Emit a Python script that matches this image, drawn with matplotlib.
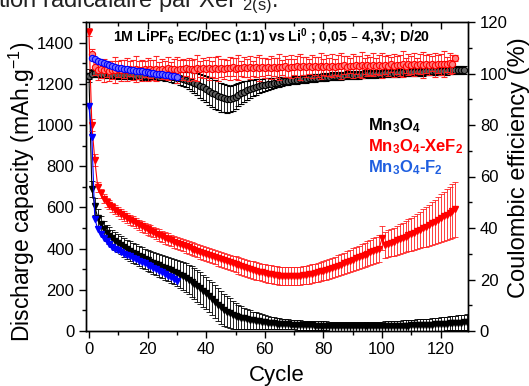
import matplotlib
matplotlib.use("Agg")
import matplotlib.pyplot as plt
from matplotlib.ticker import MultipleLocator
import numpy as np

plt.rcParams['font.family'] = ['Liberation Sans', 'DejaVu Sans']
plt.rcParams['mathtext.default'] = 'regular'

# ---------------- data ----------------
# Mn3O4 discharge capacity (mAh/g), cycles 0..129
blk_cap = [1240, 690, 605, 550, 520, 495, 476, 462, 450, 438,
           428, 418, 407, 397, 388, 380, 372, 364, 357, 350,
           343, 337, 331, 325, 319, 313, 307, 301, 295, 288,
           281, 274, 267, 259, 250, 240, 230, 219, 208, 196,
           184, 170, 156, 142, 128, 116, 104, 94, 86, 79,
           73, 68, 64, 61, 58, 55, 52, 50, 47, 45,
           43, 41, 39, 37, 36, 35, 34, 33, 32, 31,
           30, 29, 29, 28, 28, 27, 27, 26, 26, 25,
           25, 25, 24, 24, 24, 24, 23, 23, 23, 23,
           23, 23, 23, 23, 23, 23, 23, 23, 24, 24,
           24, 24, 24, 25, 25, 25, 25, 26, 26, 26,
           27, 27, 28, 28, 29, 29, 30, 31, 32, 33,
           34, 35, 36, 37, 38, 39, 40, 41, 42, 43]
blk_cap_err = [30, 40, 40, 40, 40, 40, 40, 42, 42, 44,
               44, 45, 46, 47, 48, 48, 49, 50, 50, 50,
               51, 52, 53, 54, 55, 56, 57, 58, 60, 62,
               64, 66, 68, 70, 72, 74, 75, 76, 77, 78,
               78, 79, 80, 80, 80, 80, 78, 76, 72, 68,
               64, 60, 56, 52, 48, 45, 42, 40, 38, 36,
               34, 32, 30, 29, 28, 27, 26, 25, 24, 23,
               22, 22, 22, 22, 22, 22, 22, 22, 22, 22,
               22, 22, 22, 22, 22, 22, 22, 22, 22, 22,
               22, 22, 22, 22, 22, 22, 22, 22, 22, 22,
               22, 23, 23, 24, 24, 25, 25, 26, 26, 27,
               27, 28, 28, 29, 29, 30, 30, 31, 31, 32,
               32, 33, 33, 34, 34, 35, 36, 37, 38, 38]
# Mn3O4 coulombic efficiency (%), cycles 0..128
blk_ce = [99.0, 100.0, 100.2, 100.0, 99.8, 99.9, 99.7, 99.8, 99.6, 99.7,
          99.5, 99.6, 99.4, 99.5, 99.3, 99.4, 99.2, 99.3, 99.1, 99.2,
          99.0, 99.1, 98.9, 99.0, 98.8, 98.9, 98.7, 98.8, 98.6, 98.5,
          98.4, 98.2, 98.0, 97.6, 97.2, 96.8, 96.3, 95.8, 95.2, 94.6,
          94.0, 93.3, 92.6, 91.9, 91.3, 90.8, 90.4, 90.2, 90.1, 90.4,
          91.0, 91.7, 92.4, 93.0, 93.5, 94.0, 94.4, 94.8, 95.1, 95.4,
          95.7, 95.9, 96.1, 96.3, 96.5, 96.7, 96.9, 97.0, 97.2, 97.3,
          97.5, 97.6, 97.7, 97.9, 98.0, 98.1, 98.2, 98.3, 98.4, 98.5,
          98.6, 98.7, 98.8, 98.9, 99.0, 99.0, 99.1, 99.2, 99.3, 99.3,
          99.4, 99.5, 99.5, 99.6, 99.7, 99.7, 99.8, 99.9, 99.9, 100.0,
          100.0, 100.1, 100.1, 100.2, 100.2, 100.3, 100.3, 100.4, 100.4, 100.5,
          100.5, 100.6, 100.6, 100.7, 100.7, 100.8, 100.8, 100.9, 100.9, 101.0,
          101.0, 101.1, 101.1, 101.2, 101.2, 101.3, 101.3, 101.4, 101.4]
blk_ce_err = [1.0, 1.5, 1.5, 1.5, 1.5, 1.5, 1.5, 1.5, 1.5, 1.5,
              1.5, 1.5, 1.5, 1.5, 1.5, 1.5, 1.5, 1.5, 1.5, 1.5,
              1.5, 1.5, 1.5, 1.5, 1.5, 1.5, 1.5, 1.5, 1.8, 2.0,
              2.2, 2.5, 2.8, 3.0, 3.3, 3.6, 4.0, 4.3, 4.6, 5.0,
              5.2, 5.4, 5.5, 5.6, 5.6, 5.6, 5.5, 5.4, 5.2, 5.0,
              4.8, 4.5, 4.2, 4.0, 3.7, 3.4, 3.2, 3.0, 2.8, 2.6,
              2.4, 2.2, 2.0, 2.0, 1.8, 1.8, 1.6, 1.6, 1.5, 1.5,
              1.5, 1.5, 1.5, 1.5, 1.5, 1.5, 1.5, 1.5, 1.5, 1.5,
              1.5, 1.5, 1.5, 1.5, 1.5, 1.5, 1.5, 1.5, 1.5, 1.5,
              1.5, 1.5, 1.5, 1.5, 1.5, 1.5, 1.5, 1.5, 1.5, 1.5,
              1.5, 1.5, 1.5, 1.5, 1.5, 1.5, 1.5, 1.5, 1.5, 1.5,
              1.5, 1.5, 1.5, 1.5, 1.5, 1.5, 1.5, 1.5, 1.5, 1.5,
              1.5, 1.5, 1.5, 1.5, 1.5, 1.5, 1.5, 1.5, 1.5]

# Mn3O4-XeF2 discharge capacity, cycles 0..125
red_cap = [1450, 1000, 830, 700, 668, 642, 626, 612, 600, 589,
           578, 568, 558, 549, 540, 532, 524, 516, 508, 501,
           494, 487, 480, 473, 466, 459, 452, 446, 440, 434,
           428, 422, 417, 411, 406, 400, 395, 390, 384, 379,
           374, 369, 364, 358, 353, 348, 343, 338, 333, 328,
           323, 318, 314, 309, 305, 300, 296, 292, 288, 284,
           281, 278, 275, 273, 271, 269, 268, 267, 266, 266,
           266, 267, 268, 270, 272, 275, 278, 281, 285, 289,
           293, 297, 302, 307, 312, 317, 322, 328, 334, 340,
           346, 352, 358, 364, 370, 376, 382, 388, 394, 400,
           452, 418, 424, 429, 434, 440, 446, 452, 458, 464,
           470, 477, 484, 491, 498, 506, 514, 522, 530, 538,
           547, 556, 565, 574, 582, 590]
red_cap_err = [20, 30, 30, 25, 22, 22, 22, 22, 22, 22,
               22, 23, 23, 23, 24, 24, 24, 25, 25, 25,
               26, 26, 26, 27, 27, 27, 28, 28, 28, 29,
               29, 30, 30, 30, 31, 31, 32, 32, 33, 33,
               34, 34, 35, 35, 36, 36, 37, 37, 38, 38,
               39, 39, 40, 40, 41, 41, 42, 42, 42, 43,
               43, 43, 44, 44, 44, 44, 44, 44, 44, 44,
               44, 44, 44, 44, 44, 45, 45, 45, 46, 46,
               47, 47, 48, 48, 49, 50, 51, 52, 53, 54,
               55, 56, 57, 58, 59, 60, 61, 62, 63, 64,
               60, 62, 64, 66, 68, 70, 72, 74, 76, 78,
               80, 83, 86, 89, 92, 96, 100, 104, 108, 112,
               116, 120, 124, 127, 130, 132]
# Mn3O4-XeF2 coulombic efficiency, cycles 1..125
red_ce = [107.5, 102.6, 101.4, 101.8, 101.2, 101.6, 101.0, 101.5, 101.3, 101.7,
          101.2, 101.6, 101.4, 101.9, 101.3, 101.7, 101.5, 101.2, 101.8, 101.4,
          101.6, 101.3, 101.9, 101.5, 101.7, 101.4, 102.0, 101.6, 101.8, 101.5,
          101.9, 101.6, 102.1, 101.7, 101.9, 101.5, 102.0, 101.8, 102.2, 101.7,
          102.0, 101.8, 102.3, 101.9, 102.1, 101.7, 102.2, 102.0, 102.4, 101.9,
          102.3, 102.0, 102.5, 102.1, 102.4, 102.0, 102.6, 102.2, 102.5, 102.1,
          102.6, 102.3, 102.7, 102.2, 102.6, 102.4, 102.8, 102.3, 102.7, 102.5,
          102.8, 102.4, 102.9, 102.5, 102.8, 102.6, 103.0, 102.5, 102.9, 102.6,
          103.0, 102.7, 103.1, 102.6, 103.0, 102.8, 103.2, 102.7, 103.1, 102.9,
          103.2, 102.8, 103.3, 102.9, 103.2, 103.0, 103.4, 102.9, 103.3, 103.1,
          103.4, 103.0, 103.5, 103.1, 103.4, 103.2, 103.6, 103.1, 103.5, 103.3,
          103.6, 103.2, 103.7, 103.3, 103.6, 103.4, 103.8, 103.3, 103.7, 103.5,
          103.8, 103.5, 104.0, 103.8, 106.0]
red_ce_err = [2.0, 3.0, 4.0, 3.5, 4.5, 3.0, 4.0, 3.5, 5.0, 3.0,
              4.0, 3.5, 4.5, 3.0, 4.0, 5.0, 3.5, 4.0, 3.0, 4.5,
              3.5, 4.0, 5.0, 3.0, 4.0, 3.5, 4.5, 3.0, 4.0, 5.0,
              3.5, 4.0, 3.0, 4.5, 3.5, 4.0, 5.0, 3.0, 4.0, 3.5,
              4.5, 3.0, 4.0, 5.0, 3.5, 4.0, 3.0, 4.5, 3.5, 4.0,
              5.0, 3.0, 4.0, 3.5, 4.5, 3.0, 4.0, 5.0, 3.5, 4.0,
              3.0, 4.5, 3.5, 4.0, 5.0, 3.0, 4.0, 3.5, 4.5, 3.0,
              4.0, 5.0, 3.5, 4.0, 3.0, 4.5, 3.5, 4.0, 5.0, 3.0,
              4.0, 3.5, 4.5, 3.0, 4.0, 5.0, 3.5, 4.0, 3.0, 4.5,
              3.5, 4.0, 5.0, 3.0, 4.0, 3.5, 4.5, 3.0, 4.0, 5.0,
              3.5, 4.0, 3.0, 4.5, 3.5, 4.0, 5.0, 3.0, 4.0, 3.5,
              4.5, 3.0, 4.0, 5.0, 3.5, 4.0, 3.0, 4.5, 3.5, 4.0,
              5.0, 3.0, 4.0, 3.5, 1.0]

# Mn3O4-F2 discharge capacity, cycles 0..30
blu_cap = [1090, 940, 545, 495, 470, 450, 435, 422, 410, 400,
           391, 383, 376, 369, 362, 355, 348, 342, 336, 329,
           322, 315, 308, 300, 292, 285, 277, 268, 260, 251, 241]
# Mn3O4-F2 coulombic efficiency, cycles 1..30
blu_ce = [106.0, 105.5, 105.0, 104.3, 104.0, 103.6, 103.2, 102.9, 102.6, 102.3,
          102.1, 101.9, 101.7, 101.5, 101.3, 101.1, 101.0, 100.8, 100.7, 100.5,
          100.3, 100.2, 100.0, 99.9, 99.7, 99.5, 99.3, 99.1, 98.9, 98.6]

labels = ['Mn$_3$O$_4$', 'Mn$_3$O$_4$-XeF$_2$', 'Mn$_3$O$_4$-F$_2$']
label_colors = ['#000000', '#ff0000', '#1f5fe0']

# ---------------- figure ----------------
W, H = 529, 386
fig = plt.figure(figsize=(W / 100, H / 100), dpi=100)
ax = fig.add_axes([86 / W, (H - 331) / H, (468 - 86) / W, (331 - 22) / H])
ax2 = ax.twinx()

def cyc(vals, start):
    return np.arange(start, start + len(vals))

ms = 5
eb_kw = dict(elinewidth=0.6, capsize=2.5, capthick=0.6)

# discharge (left axis)
ax.errorbar(cyc(blk_cap, 0), blk_cap, yerr=blk_cap_err, color='black', ecolor='black',
            marker='v', ms=ms, lw=0.8, **eb_kw, zorder=3)
ax.errorbar(cyc(red_cap, 0), red_cap, yerr=red_cap_err, color='#ff0000', ecolor='#ff2020',
            marker='v', ms=ms, lw=0.8, **eb_kw, zorder=4)
ax.plot(cyc(blu_cap, 0), blu_cap, color='#0000ff', marker='v', ms=ms, lw=0.8, zorder=5)

# coulombic efficiency (right axis)
ax2.errorbar(cyc(blk_ce, 0), blk_ce, yerr=blk_ce_err, color='black', ecolor='black',
             marker='o', ms=4.5, mfc='#606060', mec='black', mew=0.8, lw=0.8, **eb_kw, zorder=3)
ax2.errorbar(cyc(red_ce, 1), red_ce, yerr=red_ce_err, color='#ff0000', ecolor='#ff2020',
             marker='o', ms=4.5, mfc='#ff8080', mec='#ff0000', mew=0.8, lw=0.8, **eb_kw, zorder=4)
ax2.plot(cyc(blu_ce, 1), blu_ce, color='#0000ff', marker='o', ms=4.5, mfc='#7070ff',
         mec='#0000ff', mew=0.8, lw=0.8, zorder=5)

ax.set_xlim(-1, 129.3)
ax.set_ylim(0, 1500)
ax2.set_ylim(0, 120)

ax.xaxis.set_major_locator(MultipleLocator(20))
ax.xaxis.set_minor_locator(MultipleLocator(10))
ax.yaxis.set_major_locator(MultipleLocator(200))
ax.yaxis.set_minor_locator(MultipleLocator(100))
ax2.yaxis.set_major_locator(MultipleLocator(20))
ax2.yaxis.set_minor_locator(MultipleLocator(10))

ax.tick_params(axis='x', which='both', direction='out', top=True, labelsize=12, width=1, pad=3)
ax.tick_params(axis='x', which='major', length=5)
ax.tick_params(axis='x', which='minor', length=3)
ax.tick_params(axis='y', which='major', direction='out', length=5, width=1, labelsize=12)
ax.tick_params(axis='y', which='minor', direction='out', length=3, width=1)
ax2.tick_params(axis='y', which='major', direction='out', length=5, width=1, labelsize=12)
ax2.tick_params(axis='y', which='minor', direction='out', length=3, width=1)
# top ticks point inward
for t in ax.xaxis.get_major_ticks() + ax.xaxis.get_minor_ticks():
    t.tick2line.set_marker(3)

for a in (ax, ax2):
    for s in a.spines.values():
        s.set_linewidth(1.0)

ax.set_xlabel('Cycle', fontsize=16, labelpad=6)
ax.set_ylabel('Discharge capacity (mAh.g$^{-1}$)', fontsize=16.5)
ax.yaxis.set_label_coords((37 - 86) / 382, 0.45)
ax2.set_ylabel('Coulombic efficiency (%)', fontsize=17)
ax2.yaxis.set_label_coords((508 - 86) / 382, 0.53)

fig.text(113 / W, 1 - 42 / H,
         '1M LiPF$_6$ EC/DEC (1:1) vs Li$^0$ ; 0,05 \u2013 4,3V; D/20',
         fontsize=10.2, fontweight='bold', ha='left', va='baseline')

for i, (lab, col) in enumerate(zip(labels, label_colors)):
    fig.text(368 / W, 1 - (130 + i * 21) / H, lab, color=col, fontsize=12,
             fontweight='bold', ha='left', va='baseline')

fig.text(-2 / W, 1 - 7 / H, 'tion radicalaire par XeF$_{2(s)}$.', fontsize=17,
         color='#222222', ha='left', va='baseline')

fig.savefig('out.png', dpi=100)
